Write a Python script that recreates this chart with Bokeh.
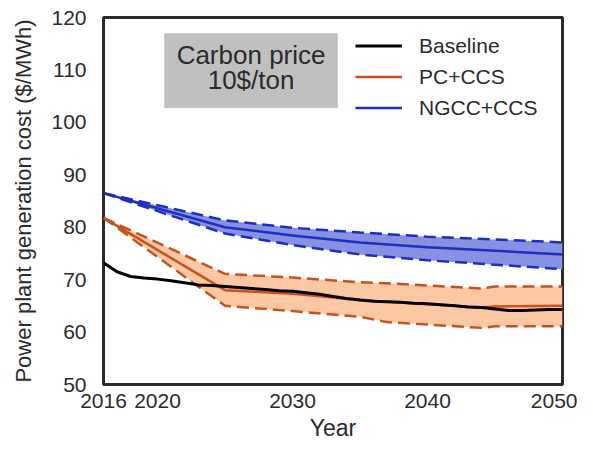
from bokeh.plotting import figure
from bokeh.models import (BoxAnnotation, Label, Legend, LegendItem, FixedTicker,
                          Range1d)
from bokeh.embed import file_html
from bokeh.resources import INLINE

# ---- data ----
base_years = [2016, 2017, 2018, 2019, 2020, 2021, 2022, 2023, 2024, 2025,
              2026, 2027, 2028, 2029, 2030, 2031, 2032, 2033, 2034, 2035,
              2036, 2037, 2038, 2039, 2040, 2041, 2042, 2043, 2044, 2045,
              2046, 2047, 2048, 2049, 2050]
baseline = [73.2, 71.5, 70.6, 70.3, 70.1, 69.8, 69.4, 69.0, 68.9, 68.7,
            68.5, 68.3, 68.1, 67.9, 67.8, 67.5, 67.2, 66.8, 66.4, 66.1,
            65.9, 65.8, 65.7, 65.5, 65.4, 65.2, 65.0, 64.8, 64.7, 64.4,
            64.1, 64.1, 64.2, 64.3, 64.3]

pc_years = [2016, 2025, 2030, 2035, 2037, 2044, 2045, 2050]
pc_mid = [81.8, 68.0, 67.3, 66.1, 65.8, 64.7, 64.9, 65.0]
pc_hi = [81.8, 71.1, 70.4, 69.5, 69.3, 68.3, 68.7, 68.7]
pc_lo = [81.8, 65.0, 64.0, 62.9, 61.9, 60.8, 61.1, 61.1]

ng_years = [2016, 2025, 2030, 2035, 2040, 2050]
ng_mid = [86.5, 80.0, 78.4, 77.1, 76.2, 74.8]
ng_hi = [86.5, 81.3, 79.9, 79.0, 78.2, 77.1]
ng_lo = [86.5, 78.8, 76.6, 74.8, 73.7, 72.0]

x_ticks = [2016, 2020, 2030, 2040, 2050]
y_ticks = [50, 60, 70, 80, 90, 100, 110, 120]

legend_labels = ["Baseline", "PC+CCS", "NGCC+CCS"]
box_lines = ["Carbon price", "10$/ton"]

# ---- style ----
FONT = "Liberation Sans"
BLACK = "#000000"
ORANGE = "#c8521f"
ORANGE_FILL = "#fcc8a4"
BLUE = "#1b2fc2"
BLUE_FILL = "#8890e2"
TXT = "#2b2b2b"

p = figure(width=577, height=443, output_backend="svg", toolbar_location=None,
           x_range=Range1d(2016, 2050), y_range=Range1d(50, 120),
           min_border_left=103, min_border_right=15, min_border_top=17,
           min_border_bottom=56)
p.background_fill_color = "white"
p.border_fill_color = "white"
p.outline_line_color = "#2a2a2a"
p.outline_line_width = 3
p.grid.visible = False

for ax in (p.xaxis[0], p.yaxis[0]):
    ax.axis_line_color = None
    ax.major_tick_line_color = None
    ax.minor_tick_line_color = None
    ax.major_tick_out = 0
    ax.major_tick_in = 0
    ax.major_label_text_font = FONT
    ax.major_label_text_font_size = "21px"
    ax.major_label_text_color = TXT
    ax.axis_label_text_font = FONT
    ax.axis_label_text_font_style = "normal"
    ax.axis_label_text_color = TXT

p.xaxis.axis_label_text_font_size = "23px"
p.yaxis.axis_label_text_font_size = "22px"
p.xaxis.ticker = FixedTicker(ticks=x_ticks)
p.yaxis.ticker = FixedTicker(ticks=y_ticks)
p.xaxis.axis_label = "Year"
p.yaxis.axis_label = "Power plant generation cost ($/MWh)"
p.xaxis.major_label_standoff = 9
p.yaxis.major_label_standoff = 17
p.xaxis.axis_label_standoff = 4
p.yaxis.axis_label_standoff = 12

# bands
p.varea(x=pc_years, y1=pc_lo, y2=pc_hi, fill_color=ORANGE_FILL)
p.varea(x=ng_years, y1=ng_lo, y2=ng_hi, fill_color=BLUE_FILL)

# dashed bounds
for ys in (pc_hi, pc_lo):
    p.line(pc_years, ys, line_color=ORANGE, line_width=2.5, line_dash="12 6")
for ys in (ng_hi, ng_lo):
    p.line(ng_years, ys, line_color=BLUE, line_width=2.5, line_dash="12 6")

r_pc = p.line(pc_years, pc_mid, line_color=ORANGE, line_width=2.5)
r_ng = p.line(ng_years, ng_mid, line_color=BLUE, line_width=2.5)
r_base = p.line(base_years, baseline, line_color=BLACK, line_width=3)

# carbon price box
box = BoxAnnotation(left=2020.52, right=2033.33, bottom=102.8, top=116.95,
                    fill_color="#c0c0c0", fill_alpha=1.0,
                    line_color="#9a9a9a", line_width=1)
p.add_layout(box)
for txt, yy in zip(box_lines, [112.9, 108.0]):
    p.add_layout(Label(x=2026.93, y=yy, text=txt, text_align="center",
                       text_baseline="middle", text_font=FONT,
                       text_font_size="26px", text_color=TXT))

legend = Legend(items=[LegendItem(label=legend_labels[0], renderers=[r_base]),
                       LegendItem(label=legend_labels[1], renderers=[r_pc]),
                       LegendItem(label=legend_labels[2], renderers=[r_ng])],
                location=(252, 261), padding=0, margin=0, spacing=0,
                glyph_width=47, glyph_height=31, label_height=31,
                label_standoff=17, border_line_color=None,
                background_fill_alpha=0,
                label_text_font=FONT, label_text_font_size="21px",
                label_text_color=TXT)
p.add_layout(legend)

open("out.html", "w").write(file_html(p, INLINE))
